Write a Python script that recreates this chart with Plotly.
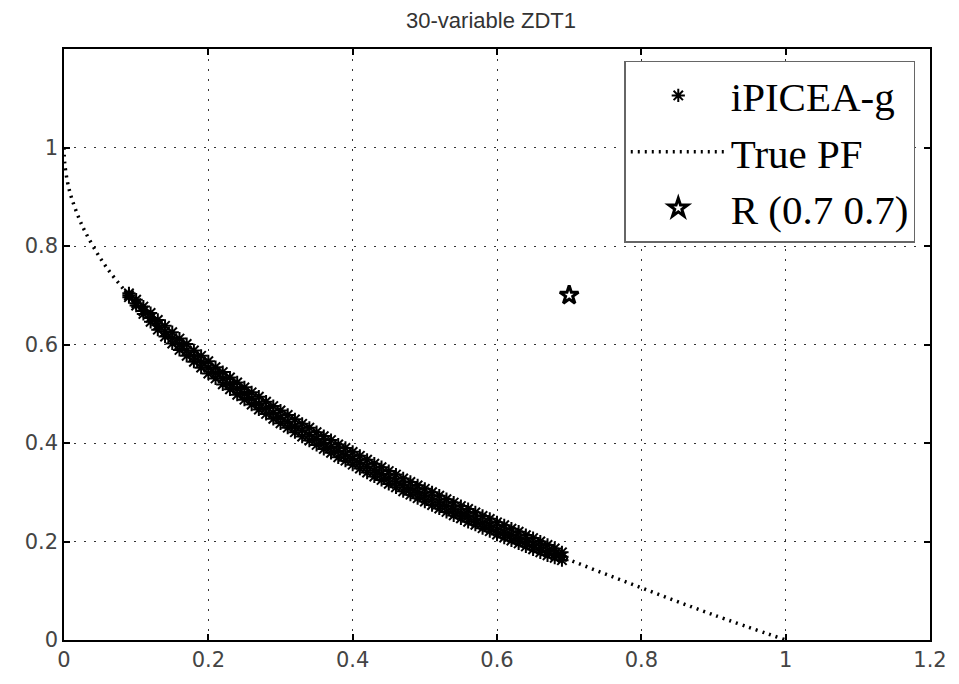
import plotly.graph_objects as go

# ---- data ----
pf_x = [0.0, 0.001, 0.005, 0.01, 0.02, 0.03, 0.05, 0.07, 0.1, 0.15, 0.2, 0.25,
        0.3, 0.4, 0.5, 0.6, 0.7, 0.8, 0.9, 1.0]
pf_y = [1.0, 0.968, 0.929, 0.900, 0.859, 0.827, 0.776, 0.735, 0.684, 0.613, 0.553, 0.500,
        0.452, 0.368, 0.293, 0.225, 0.163, 0.106, 0.051, 0.0]

sol_x = [0.09, 0.10, 0.11, 0.12, 0.13, 0.14, 0.15, 0.16, 0.17, 0.18, 0.19, 0.20,
         0.21, 0.22, 0.23, 0.24, 0.25, 0.26, 0.27, 0.28, 0.29, 0.30, 0.31, 0.32,
         0.33, 0.34, 0.35, 0.36, 0.37, 0.38, 0.39, 0.40, 0.41, 0.42, 0.43, 0.44,
         0.45, 0.46, 0.47, 0.48, 0.49, 0.50, 0.51, 0.52, 0.53, 0.54, 0.55, 0.56,
         0.57, 0.58, 0.59, 0.60, 0.61, 0.62, 0.63, 0.64, 0.65, 0.66, 0.67, 0.68, 0.69]
sol_y_mid = [0.700, 0.684, 0.668, 0.654, 0.639, 0.626, 0.613, 0.600, 0.588, 0.576, 0.564, 0.553,
             0.542, 0.531, 0.520, 0.510, 0.500, 0.490, 0.480, 0.471, 0.461, 0.452, 0.443, 0.434,
             0.426, 0.417, 0.408, 0.400, 0.392, 0.384, 0.376, 0.368, 0.360, 0.352, 0.344, 0.337,
             0.329, 0.322, 0.314, 0.307, 0.300, 0.293, 0.286, 0.279, 0.272, 0.265, 0.258, 0.252,
             0.245, 0.238, 0.232, 0.225, 0.219, 0.213, 0.206, 0.200, 0.194, 0.188, 0.181, 0.175, 0.169]
sol_y_upper = [0.704, 0.691, 0.677, 0.664, 0.650, 0.638, 0.625, 0.612, 0.601, 0.588, 0.577, 0.566,
               0.554, 0.544, 0.533, 0.523, 0.513, 0.503, 0.494, 0.484, 0.475, 0.466, 0.457, 0.448,
               0.439, 0.431, 0.422, 0.414, 0.406, 0.397, 0.390, 0.382, 0.374, 0.366, 0.358, 0.351,
               0.343, 0.336, 0.328, 0.321, 0.314, 0.307, 0.300, 0.293, 0.286, 0.279, 0.272, 0.266,
               0.259, 0.252, 0.246, 0.239, 0.233, 0.226, 0.220, 0.213, 0.207, 0.200, 0.193, 0.186, 0.178]
sol_y_lower = [0.696, 0.679, 0.662, 0.646, 0.630, 0.616, 0.602, 0.589, 0.577, 0.565, 0.553, 0.541,
               0.531, 0.519, 0.509, 0.498, 0.488, 0.478, 0.468, 0.459, 0.449, 0.440, 0.431, 0.422,
               0.413, 0.405, 0.396, 0.388, 0.380, 0.371, 0.364, 0.356, 0.348, 0.340, 0.332, 0.325,
               0.317, 0.310, 0.302, 0.295, 0.288, 0.281, 0.274, 0.267, 0.260, 0.253, 0.247, 0.240,
               0.234, 0.227, 0.221, 0.214, 0.208, 0.202, 0.196, 0.190, 0.184, 0.178, 0.172, 0.167, 0.162]

ref_x = [0.7]
ref_y = [0.7]

x_ticks = [0, 0.2, 0.4, 0.6, 0.8, 1.0, 1.2]
x_tick_labels = ["0", "0.2", "0.4", "0.6", "0.8", "1", "1.2"]
y_ticks = [0, 0.2, 0.4, 0.6, 0.8, 1.0]
y_tick_labels = ["0", "0.2", "0.4", "0.6", "0.8", "1"]

fig = go.Figure()

# solutions (three bands of points merged into one series)
all_sol_x = sol_x + sol_x + sol_x
all_sol_y = sol_y_upper + sol_y_mid + sol_y_lower
fig.add_trace(go.Scatter(
    x=all_sol_x, y=all_sol_y, mode="markers", name="iPICEA-g",
    marker=dict(symbol="asterisk-open", size=11, color="black",
                line=dict(color="black", width=2)),
))

fig.add_trace(go.Scatter(
    x=pf_x, y=pf_y, mode="lines", name="True PF", line_shape="spline",
    line=dict(color="black", width=3.5, dash="2px,5px"),
))

fig.add_trace(go.Scatter(
    x=ref_x, y=ref_y, mode="markers", name="R (0.7 0.7)",
    marker=dict(symbol="star-open", size=14, color="black",
                line=dict(color="black", width=3)),
))

axis_common = dict(
    showline=True, linecolor="black", linewidth=1.5, mirror="ticks",
    ticks="inside", ticklen=6, tickwidth=1.5, tickcolor="black",
    showgrid=True, gridcolor="#333333", gridwidth=1, griddash="2px,8px",
    zeroline=False,
    tickfont=dict(family="DejaVu Sans", size=21, color="#444444"),
)

fig.update_xaxes(range=[0, 1.2], tickvals=x_ticks, ticktext=x_tick_labels, **axis_common)
fig.update_yaxes(range=[0, 1.2], tickvals=y_ticks, ticktext=y_tick_labels, **axis_common)

fig.update_layout(
    width=959, height=684,
    margin=dict(l=64, r=28, t=49, b=30),
    paper_bgcolor="white", plot_bgcolor="white",
    title=dict(text="30-variable ZDT1", x=0.512, xanchor="center", y=0.97, yanchor="middle",
               font=dict(family="Liberation Sans", size=22, color="#333333")),
    legend=dict(
        x=0.983, y=0.980, xanchor="right", yanchor="top",
        bgcolor="white", bordercolor="#666666", borderwidth=1.5,
        font=dict(family="Liberation Serif", size=41, color="black"),
        itemwidth=95, tracegroupgap=0,
    ),
    showlegend=True,
)

fig.write_html("out.html")
